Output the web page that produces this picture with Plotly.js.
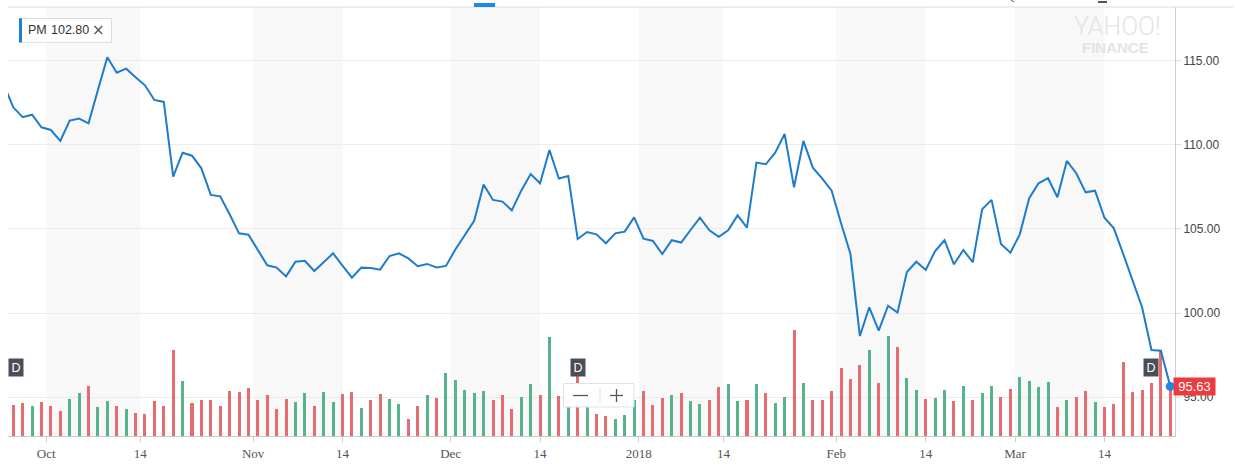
<!DOCTYPE html>
<html>
<head>
<meta charset="utf-8">
<script src="https://cdn.plot.ly/plotly-3.0.1.min.js"></script>
<style>
html,body{margin:0;padding:0;background:#fff;}
#chart{width:1235px;height:473px;}
</style>
</head>
<body>
<div id="chart"></div>
<script>
// ---- data (PM daily close, 2017-09-25 .. 2018-03-23) ----
const closes = [
  113.60, 112.24, 111.65, 111.80, 111.05, 110.89, 110.24, 111.45, 111.57, 111.29,
  113.27, 115.22, 114.30, 114.54, 114.03, 113.55, 112.68, 112.56, 108.11, 109.54,
  109.36, 108.61, 107.03, 106.94, 105.88, 104.74, 104.66, 103.75, 102.84, 102.70,
  102.18, 103.05, 103.11, 102.50, 103.04, 103.55, 102.82, 102.10, 102.70, 102.68,
  102.58, 103.39, 103.55, 103.25, 102.78, 102.92, 102.71, 102.80, 103.78, 104.65,
  105.49, 107.64, 106.73, 106.63, 106.11, 107.28, 108.27, 107.72, 109.70, 108.00,
  108.15, 104.40, 104.82, 104.68, 104.15, 104.74, 104.84, 105.69, 104.42, 104.29,
  103.51, 104.33, 104.19, 104.94, 105.67, 104.92, 104.54, 104.92, 105.81, 105.08,
  108.95, 108.85, 109.54, 110.65, 107.48, 110.24, 108.65, 108.00, 107.28, 105.34,
  103.51, 98.63, 100.34, 98.95, 100.43, 100.02, 102.44, 103.05, 102.56, 103.69,
  104.33, 102.90, 103.75, 103.02, 106.17, 106.73, 104.11, 103.59, 104.68, 106.83,
  107.72, 108.02, 106.89, 109.05, 108.32, 107.18, 107.28, 105.67, 105.04, 103.50,
  101.86, 100.34, 97.80, 97.76, 95.63
];
// volume, millions of shares
const volumes = [
  4.50, 4.09, 4.35, 3.92, 4.48, 3.92, 3.31, 4.83, 5.66, 6.57,
  3.79, 4.61, 3.92, 3.52, 3.05, 2.92, 4.61, 3.92, 11.23, 7.22,
  4.35, 4.70, 4.70, 3.92, 5.92, 5.79, 6.27, 4.70, 5.40, 3.52,
  4.87, 4.48, 5.66, 3.92, 5.74, 4.48, 5.53, 5.74, 3.66, 4.70,
  5.53, 4.83, 4.18, 2.26, 3.96, 5.35, 4.96, 8.27, 7.31, 6.01,
  5.66, 5.87, 4.74, 5.40, 3.57, 5.13, 6.79, 5.40, 12.97, 5.27,
  4.50, 7.96, 4.30, 2.87, 2.61, 2.22, 2.74, 4.70, 5.92, 4.09,
  4.92, 5.35, 5.66, 4.61, 4.22, 4.74, 6.44, 6.83, 4.61, 4.74,
  6.83, 5.57, 4.35, 5.13, 13.84, 6.96, 4.66, 4.70, 5.92, 8.92,
  7.44, 9.27, 11.23, 6.96, 13.10, 11.66, 7.57, 6.01, 4.87, 4.96,
  6.01, 4.61, 6.53, 4.70, 5.66, 6.53, 5.13, 6.18, 7.74, 7.22,
  6.44, 7.09, 3.83, 4.74, 5.13, 5.92, 4.48, 3.83, 4.22, 9.70,
  5.79, 6.05, 6.96, 11.23, 6.01
];
const tickLabels = ['Oct','14','Nov','14','Dec','14','2018','14','Feb','14','Mar','14'];
const tickMonths = ['2017-10','2017-11','2017-12','2018-01','2018-02','2018-03'];
const holidays = ['2017-11-23','2017-12-25','2018-01-01','2018-01-15','2018-02-19'];
const dividendDates = ['2017-09-26','2017-12-20','2018-03-21'];
const symbol = 'PM';
const legendValue = '102.80';

// ---- trading calendar ----
function tradingDates(startStr, endStr, hol) {
  const out = [];
  let d = new Date(startStr + 'T00:00:00Z');
  const end = new Date(endStr + 'T00:00:00Z');
  while (d <= end) {
    const wd = d.getUTCDay();
    const s = d.toISOString().slice(0, 10);
    if (wd !== 0 && wd !== 6 && !hol.includes(s)) out.push(s);
    d = new Date(d.getTime() + 86400000);
  }
  return out;
}
const dates = tradingDates('2017-09-25', '2018-03-23', holidays);
const xs = dates.map((d, k) => k);

const tickVals = [];
tickMonths.forEach(m => {
  const first = dates.findIndex(d => d.startsWith(m));
  tickVals.push(first - 0.5);
  const exact = dates.indexOf(m + '-14');
  if (exact >= 0) tickVals.push(exact);
  else tickVals.push(dates.findIndex(d => d.startsWith(m) && +d.slice(8) > 14) - 0.5);
});

const RED = '#e76c71', GREEN = '#56b38a';
const volColors = closes.map((c, k) => (k > 0 && c >= closes[k - 1]) ? GREEN : RED);

// ---- layout geometry ----
const W = 1235, H = 473;
const M = {l: 8, r: 60, t: 7, b: 37};
const PW = W - M.l - M.r, PH = H - M.t - M.b;
const X = px => (px - M.l) / PW;
const Y = py => (H - M.b - py) / PH;
const xRange = [0.44, 124.5];

const shapes = [];
for (let j = 0; j < tickVals.length; j += 2) {
  shapes.push({type: 'rect', xref: 'x', yref: 'paper', x0: tickVals[j], x1: tickVals[j + 1],
    y0: 0, y1: 1, fillcolor: '#f8f8f8', line: {width: 0}, layer: 'below'});
}
// top rule and tab marker
shapes.push({type: 'line', xref: 'paper', yref: 'paper', x0: 0, x1: X(1233), y0: 1, y1: 1,
  line: {color: '#dcdcdc', width: 1}});
shapes.push({type: 'rect', xref: 'paper', yref: 'paper', x0: X(474), x1: X(495), y0: Y(7), y1: Y(3),
  fillcolor: '#1e88e5', line: {width: 0}});
shapes.push({type: 'rect', xref: 'paper', yref: 'paper', x0: X(1098), x1: X(1107), y0: Y(3), y1: Y(1),
  fillcolor: '#555', line: {width: 0}});
shapes.push({type: 'line', xref: 'paper', yref: 'paper', x0: X(1011), x1: X(1014), y0: Y(0), y1: Y(2),
  line: {color: '#555', width: 1}});
// legend chip
shapes.push({type: 'rect', xref: 'paper', yref: 'paper', x0: X(19.5), x1: X(111.5), y0: Y(42.3), y1: Y(18.5),
  fillcolor: '#ffffff', line: {color: '#dcdcdc', width: 1}});
shapes.push({type: 'rect', xref: 'paper', yref: 'paper', x0: X(19), x1: X(22), y0: Y(42.5), y1: Y(18.3),
  fillcolor: '#1e7fd6', line: {width: 0}});
// zoom control
shapes.push({type: 'rect', xref: 'paper', yref: 'paper', x0: X(563.5), x1: X(634), y0: Y(407), y1: Y(383.5),
  fillcolor: '#ffffff', line: {color: '#e3e3e3', width: 1}});
shapes.push({type: 'line', xref: 'paper', yref: 'paper', x0: X(600), x1: X(600), y0: Y(402), y1: Y(387.5),
  line: {color: '#dddddd', width: 1}});
shapes.push({type: 'line', xref: 'paper', yref: 'paper', x0: X(573), x1: X(588), y0: Y(395.5), y1: Y(395.5),
  line: {color: '#555', width: 1.3}});
shapes.push({type: 'line', xref: 'paper', yref: 'paper', x0: X(610), x1: X(623), y0: Y(395.5), y1: Y(395.5),
  line: {color: '#555', width: 1.3}});
shapes.push({type: 'line', xref: 'paper', yref: 'paper', x0: X(616.5), x1: X(616.5), y0: Y(389), y1: Y(402),
  line: {color: '#555', width: 1.3}});

const annotations = [];
annotations.push({xref: 'paper', yref: 'paper', x: X(25.5), y: Y(30.5), xanchor: 'left', yanchor: 'middle',
  text: symbol, showarrow: false, font: {family: 'Liberation Sans', size: 12.5, color: '#333'}});
annotations.push({xref: 'paper', yref: 'paper', x: X(49), y: Y(30.5), xanchor: 'left', yanchor: 'middle',
  text: legendValue, showarrow: false, font: {family: 'Liberation Sans', size: 12.5, color: '#333'}});
annotations.push({xref: 'paper', yref: 'paper', x: X(98.5), y: Y(30.5), xanchor: 'center', yanchor: 'middle',
  text: '×', showarrow: false, font: {family: 'DejaVu Sans', size: 15, color: '#555'}});
// watermark
annotations.push({xref: 'paper', yref: 'paper', x: X(1117.5), y: Y(25.5), xanchor: 'center', yanchor: 'middle',
  text: 'YAHOO!', showarrow: false, height: 26, borderpad: 0,
  font: {family: 'Roboto', weight: 300, size: 25, color: '#e4e4e4'}});
annotations.push({xref: 'paper', yref: 'paper', x: X(1115.5), y: Y(46.5), xanchor: 'center', yanchor: 'middle',
  text: '<b>FINANCE</b>', showarrow: false, height: 14, borderpad: 0,
  font: {family: 'Liberation Sans', size: 15, color: '#e4e4e4'}});
// dividend markers
dividendDates.forEach(ds => {
  let xi = dates.indexOf(ds);
  xi = Math.max(xi, xRange[0] + 0.8);
  annotations.push({xref: 'x', yref: 'paper', x: xi, y: Y(367), xanchor: 'center', yanchor: 'middle',
    text: 'D', showarrow: false, width: 14, height: 17, borderpad: 0, bgcolor: '#4a4e56',
    font: {family: 'Liberation Sans', size: 12.5, color: '#ffffff'}});
});
// last price tag
const lastIdx = closes.length - 1;
annotations.push({xref: 'paper', yref: 'y2', x: X(1173), y: closes[lastIdx], xanchor: 'left', yanchor: 'middle',
  text: closes[lastIdx].toFixed(2), showarrow: false, width: 41, height: 17, borderpad: 0, bgcolor: '#ec3a3e',
  font: {family: 'Liberation Sans', size: 13, color: '#ffffff'}});

const traces = [
  {type: 'bar', x: xs, y: volumes, yaxis: 'y', marker: {color: volColors, line: {width: 0}},
   width: 0.32, hoverinfo: 'skip'},
  {type: 'scatter', mode: 'lines', x: xs, y: closes, yaxis: 'y2',
   line: {color: '#1f7bcc', width: 2}, hoverinfo: 'skip'},
  {type: 'scatter', mode: 'markers', x: [xs[lastIdx]], y: [closes[lastIdx]], yaxis: 'y2',
   marker: {color: '#1e88e5', size: 9}, cliponaxis: false, hoverinfo: 'skip'}
];

const layout = {
  width: W, height: H,
  margin: M,
  paper_bgcolor: '#ffffff', plot_bgcolor: 'rgba(0,0,0,0)',
  showlegend: false,
  hovermode: false,
  font: {family: 'Liberation Sans', size: 12, color: '#444'},
  xaxis: {
    type: 'linear', range: xRange, tickmode: 'array', tickvals: tickVals, ticktext: tickLabels,
    showgrid: false, zeroline: false, showline: true, linecolor: '#cccccc', linewidth: 1,
    ticks: 'outside', ticklen: 5, tickcolor: '#cccccc',
    tickfont: {family: 'Liberation Serif', size: 13, color: '#555'}
  },
  yaxis: {range: [0, 56], visible: false, fixedrange: true},
  yaxis2: {
    overlaying: 'y', side: 'right', anchor: 'x', range: [92.68, 118.21],
    tickmode: 'array', tickvals: [95, 100, 105, 110, 115], tickformat: '.2f',
    showgrid: true, gridcolor: '#ececec', zeroline: false,
    showline: true, linecolor: '#cccccc', linewidth: 1,
    ticks: 'outside', ticklen: 5, tickcolor: '#dddddd',
    tickfont: {family: 'Liberation Sans', size: 12, color: '#444'}
  },
  bargap: 0,
  shapes: shapes,
  annotations: annotations
};

Plotly.newPlot('chart', traces, layout, {displayModeBar: false, staticPlot: true});
</script>
</body>
</html>
